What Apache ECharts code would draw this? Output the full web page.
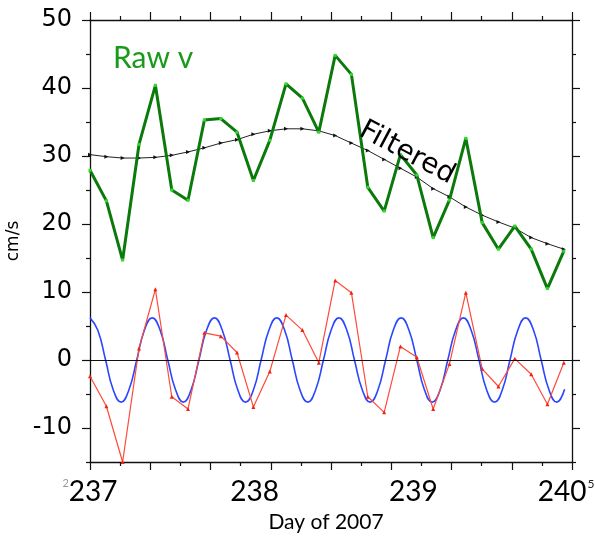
<!DOCTYPE html>
<html>
<head>
<meta charset="utf-8">
<script src="https://cdn.jsdelivr.net/npm/echarts@6/dist/echarts.min.js"></script>
<style>
  html, body { margin: 0; padding: 0; background: #fff; }
  #chart { width: 595px; height: 539px; }
</style>
</head>
<body>
<div id="chart"></div>
<script>
// Sample times (day of 2007) shared by the raw, filtered and residual series
const days = [237.000, 237.102, 237.203, 237.305, 237.407, 237.509, 237.610, 237.712, 237.814, 237.915,
              238.017, 238.119, 238.220, 238.322, 238.424, 238.526, 238.627, 238.729, 238.831, 238.932,
              239.034, 239.136, 239.237, 239.339, 239.441, 239.542, 239.644, 239.746, 239.847, 239.949];

// Raw v velocity (cm/s)
const rawV = [27.9, 23.4, 14.7, 31.7, 40.4, 25.0, 23.5, 35.3, 35.5, 33.5,
              26.4, 32.3, 40.6, 38.5, 33.5, 44.8, 42.0, 25.4, 21.9, 30.2,
              27.2, 18.0, 23.5, 32.6, 20.2, 16.3, 19.7, 16.3, 10.5, 16.0];

// Low-pass filtered v (cm/s)
const filtered = [30.2, 29.9, 29.7, 29.7, 29.8, 30.1, 30.6, 31.2, 31.9, 32.4,
                  33.2, 33.7, 34.0, 34.0, 33.7, 33.0, 31.9, 30.8, 29.5, 28.2,
                  26.9, 25.2, 24.0, 22.5, 21.3, 20.3, 19.4, 18.0, 17.1, 16.3];

// Raw minus filtered (cm/s)
const residual = [-2.4, -6.8, -15.0, 1.7, 10.4, -5.4, -7.2, 4.0, 3.5, 1.1,
                  -6.9, -1.7, 6.6, 4.4, -0.4, 11.7, 9.9, -5.4, -7.7, 2.0,
                  0.4, -7.2, -0.6, 9.9, -1.3, -3.9, 0.2, -2.1, -6.5, -0.4];

// Tidal fit curve: times and values (cm/s)
const tideDays = [237.000, 237.048, 237.097, 237.145, 237.194, 237.242, 237.291, 237.339,
                  237.387, 237.436, 237.484, 237.533, 237.581, 237.629, 237.678, 237.726,
                  237.775, 237.823, 237.872, 237.920, 237.968, 238.017, 238.065, 238.114,
                  238.162, 238.211, 238.259, 238.307, 238.356, 238.404, 238.453, 238.501,
                  238.549, 238.598, 238.646, 238.695, 238.743, 238.792, 238.840, 238.888,
                  238.937, 238.985, 239.034, 239.082, 239.130, 239.179, 239.227, 239.276,
                  239.324, 239.372, 239.421, 239.469, 239.518, 239.566, 239.614, 239.663,
                  239.711, 239.760, 239.808, 239.857, 239.905, 239.954];
const tideFit = [6.2, 4.4, 0, -4.4, -6.2, -4.4, 0, 4.4,
                 6.2, 4.4, 0, -4.4, -6.2, -4.4, 0, 4.4,
                 6.2, 4.4, 0, -4.4, -6.2, -4.4, 0, 4.4,
                 6.2, 4.4, 0, -4.4, -6.2, -4.4, 0, 4.4,
                 6.2, 4.4, 0, -4.4, -6.2, -4.4, 0, 4.4,
                 6.2, 4.4, 0, -4.4, -6.2, -4.4, 0, 4.4,
                 6.2, 4.4, 0, -4.4, -6.2, -4.4, 0, 4.4,
                 6.2, 4.4, 0, -4.4, -6.2, -4.3];

// Axis labels / tick positions
const xLabels = [237, 238, 239, 240];
const yMajor = [-10, 0, 10, 20, 30, 40, 50];
const yMinor = [-15, -5, 5, 15, 25, 35, 45];

const zip = (xs, ys) => xs.map((x, i) => [x, ys[i]]);

const AX = '#111';
const X_MIN = 237, X_MAX = 240, Y_MIN = -15, Y_MAX = 50;
const LABEL_FONT = 'Lato, sans-serif';

function xAxisCfg(position, showLabels) {
  const cfg = {
    type: 'value', position, min: X_MIN, max: X_MAX, interval: 0.375,
    axisLine: { show: true, onZero: false, lineStyle: { color: AX, width: 1.3 } },
    axisTick: { show: true, inside: false, length: 8, lineStyle: { color: AX, width: 1.2 } },
    minorTick: { show: true, splitNumber: 2, length: 4, lineStyle: { color: AX, width: 1.2 } },
    splitLine: { show: false }, minorSplitLine: { show: false },
    axisLabel: { show: false }
  };
  if (showLabels) {
    cfg.axisLabel = {
      show: true, customValues: xLabels, margin: 16,
      fontFamily: LABEL_FONT, fontSize: 28, color: '#000',
      formatter: v => {
        if (v === 237) return '{g|2}{a|237}';
        if (v === 238) return '{b|238}';
        if (v === 239) return '{c|239}';
        return '{d|240}{s|5}';
      },
      rich: {
        g: { fontSize: 11, color: '#999', verticalAlign: 'top', fontFamily: LABEL_FONT },
        a: { fontSize: 28, fontFamily: LABEL_FONT, padding: [0, 0, 0, 0] },
        b: { fontSize: 28, fontFamily: LABEL_FONT, padding: [0, 0, 0, 8] },
        c: { fontSize: 28, fontFamily: LABEL_FONT, padding: [0, 0, 0, 4] },
        d: { fontSize: 28, fontFamily: LABEL_FONT, padding: [0, 0, 0, 0] },
        s: { fontSize: 12, color: '#222', verticalAlign: 'top', fontFamily: LABEL_FONT, padding: [0, 12, 0, 1] }
      }
    };
    cfg.name = 'Day of 2007';
    cfg.nameLocation = 'middle';
    cfg.nameGap = 50;
    cfg.nameTextStyle = { fontFamily: LABEL_FONT, fontSize: 21, color: '#000', padding: [0, 10, 0, 0] };
  }
  return cfg;
}

function yAxisCfg(position, major, showLabels) {
  const cfg = {
    type: 'value', position, min: Y_MIN, max: Y_MAX, interval: 5,
    axisLine: { show: major, onZero: false, lineStyle: { color: AX, width: 1.3 } },
    axisTick: { show: true, inside: false, length: major ? 8 : 4,
                customValues: major ? yMajor : yMinor, lineStyle: { color: AX, width: 1.2 } },
    splitLine: { show: false },
    axisLabel: { show: false }
  };
  if (showLabels) {
    cfg.axisLabel = {
      show: true, customValues: yMajor, margin: 18,
      fontFamily: '"DejaVu Sans", sans-serif', fontSize: 24, color: '#000'
    };
    cfg.name = 'cm/s';
    cfg.nameLocation = 'middle';
    cfg.nameRotate = 90;
    cfg.nameGap = 61;
    cfg.nameTextStyle = { fontFamily: '"DejaVu Sans", sans-serif', fontSize: 17, color: '#000', padding: [12, 0, 0, 0] };
  }
  return cfg;
}

const chart = echarts.init(document.getElementById('chart'), null, { renderer: 'canvas' });
chart.setOption({
  backgroundColor: '#fff',
  animation: false,
  grid: { left: 90, right: 23, top: 20, bottom: 77, containLabel: false, outerBoundsMode: 'none' },
  xAxis: [xAxisCfg('bottom', true), xAxisCfg('top', false)],
  yAxis: [
    yAxisCfg('left', true, true),
    yAxisCfg('left', false, false),
    yAxisCfg('right', true, false),
    yAxisCfg('right', false, false)
  ],
  series: [
    {
      name: 'tide', type: 'line', data: zip(tideDays, tideFit),
      smooth: 0.5, symbol: 'none',
      lineStyle: { color: '#2a46ff', width: 1.6 },
      markLine: {
        silent: true, symbol: 'none', label: { show: false },
        lineStyle: { color: '#111', width: 1.2, type: 'solid' },
        data: [{ yAxis: 0 }]
      },
      z: 2
    },
    {
      name: 'residual', type: 'line', data: zip(days, residual),
      symbol: 'triangle', symbolSize: 4, clip: false,
      lineStyle: { color: '#ff4a3a', width: 1.2 },
      itemStyle: { color: '#ee2412' },
      z: 3
    },
    {
      name: 'filtered', type: 'line', data: zip(days, filtered),
      symbol: 'triangle', symbolSize: 4, symbolRotate: -90,
      lineStyle: { color: '#222', width: 1 },
      itemStyle: { color: '#111' },
      z: 4
    },
    {
      name: 'raw', type: 'line', data: zip(days, rawV),
      symbol: 'rect', symbolSize: 3,
      lineStyle: { color: '#0b7a0b', width: 3 },
      itemStyle: { color: '#30d830' },
      z: 5
    }
  ],
  graphic: [
    {
      type: 'text', x: 113, y: 58,
      style: { text: 'Raw v', font: '30px Lato, sans-serif', fill: '#1a9a1a', align: 'left', verticalAlign: 'middle' },
      z: 10
    },
    {
      type: 'text', x: 407, y: 153, rotation: -28 * Math.PI / 180,
      style: { text: 'Filtered', font: '28px "DejaVu Sans", sans-serif', fill: '#000', align: 'center', verticalAlign: 'middle' },
      z: 10
    }
  ]
});
</script>
</body>
</html>
